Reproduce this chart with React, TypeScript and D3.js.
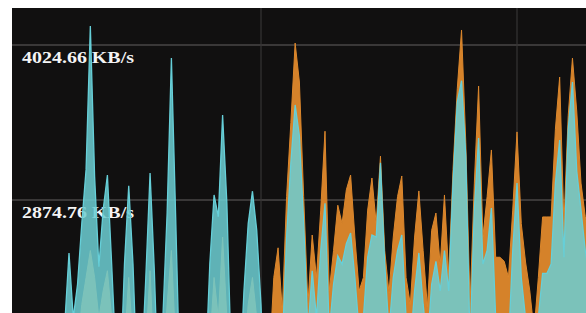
import { useEffect, useRef } from "react";
import { select, scaleLinear, scaleTime, area, curveLinear, timeMinute } from "d3";

// one sample per second, starting 59s before the first minute gridline
const startTime = new Date(2020, 0, 1, 12, 0, 1);

// sent (teal) KB/s
const sent = [
  1200, 1100, 1300, 1000, 1200, 1400, 1100, 1300, 1200, 1000,
  1300, 1500, 1400, 1950, 2482, 2000, 2250, 2700, 3100, 4165,
  3050, 2380, 2800, 3060, 2400, 1700, 1500, 2400, 2980, 2400,
  1500, 1600, 2300, 3075, 2350, 1400, 2000, 2780, 3928, 2750,
  1500, 1300, 1200, 1400, 1300, 1100, 1600, 2400, 2912, 2750,
  3505, 2850, 1700, 1300, 1500, 2200, 2700, 2940, 2650, 2100,
  1200, 1400, 1800, 2000, 1800, 2600, 3150, 3580, 3350, 2700,
  1900, 2350, 2000, 2500, 2850, 1900, 2250, 2460, 2400, 2550,
  2630, 2300, 1900, 2000, 2450, 2615, 2600, 3150, 2400, 1900,
  2300, 2500, 2615, 2000, 1800, 2200, 2482, 2100, 1800, 2250,
  2420, 2200, 2500, 2200, 3000, 3600, 3760, 3200, 1800, 2800,
  3335, 2400, 2500, 2815, 2000, 1950, 1900, 1800, 2500, 3000,
  2300, 2000, 1800, 1700, 2000, 2330, 2330, 2400, 3000, 3320,
  2450, 3400, 3750, 3090, 2800, 2500, 2300,
];

// received (orange) KB/s
const received = [
  900, 800, 1000, 800, 900, 1000, 900, 1000, 900, 800,
  1000, 1100, 1100, 1500, 1900, 1600, 1800, 2100, 2300, 2500,
  2300, 2000, 2200, 2350, 2000, 1400, 1200, 1800, 2300, 1800,
  1200, 1300, 1800, 2350, 1600, 1100, 1600, 2100, 2500, 1800,
  1200, 1000, 1000, 1100, 1000, 900, 1300, 1800, 2300, 2000,
  2600, 2000, 1400, 1000, 1200, 1700, 2100, 2300, 2000, 1500,
  1100, 1700, 2300, 2520, 2050, 2900, 3450, 4039, 3750, 2900,
  2100, 2615, 2300, 2800, 3385, 2200, 2500, 2836, 2700, 2950,
  3060, 2600, 2200, 2300, 2800, 3038, 2700, 3200, 2500, 2185,
  2600, 2900, 3053, 2300, 2100, 2600, 2942, 2500, 2080, 2650,
  2778, 2390, 2912, 2318, 3100, 3700, 4136, 3300, 2100, 3000,
  3720, 2600, 2900, 3246, 2450, 2450, 2420, 2300, 2800, 3380,
  2700, 2415, 2200, 1900, 2300, 2749, 2749, 2749, 3400, 3787,
  2700, 3500, 3928, 3535, 3000, 2750, 2600,
];

const yTicks = [574.95, 1724.86, 2874.76, 4024.66];

const W = 586;
const H = 313;
const plot = { left: 12, top: 8, right: 586, bottom: 313 };

export default function App() {
  const ref = useRef<SVGSVGElement>(null);

  useEffect(() => {
    const svg = select(ref.current);
    svg.selectAll("*").remove();

    const times = sent.map((_, i) => new Date(startTime.getTime() + i * 1000));

    const x = scaleTime()
      .domain([new Date(2020, 0, 1, 12, 0, 0), new Date(2020, 0, 1, 12, 2, 17)])
      .range([5, 5 + (137 * 256) / 60]);

    const y = scaleLinear().domain([0, 4024.66]).range([587.5, 45]);

    // only the ticks that fall inside the visible plot
    const shownTicks = yTicks.filter((d) => y(d) > plot.top && y(d) < plot.bottom - 30);

    svg
      .append("defs")
      .append("clipPath")
      .attr("id", "plotclip")
      .append("rect")
      .attr("x", plot.left)
      .attr("y", plot.top)
      .attr("width", plot.right - plot.left)
      .attr("height", plot.bottom - plot.top);

    svg
      .append("rect")
      .attr("x", plot.left)
      .attr("y", plot.top)
      .attr("width", plot.right - plot.left)
      .attr("height", plot.bottom - plot.top)
      .attr("fill", "#111010");

    const g = svg.append("g").attr("clip-path", "url(#plotclip)");

    g.selectAll("line.hgrid")
      .data(shownTicks)
      .enter()
      .append("line")
      .attr("class", "hgrid")
      .attr("x1", plot.left)
      .attr("x2", plot.right)
      .attr("y1", (d) => y(d))
      .attr("y2", (d) => y(d))
      .attr("stroke", "#3a3838")
      .attr("stroke-width", 2);

    g.selectAll("line.vgrid")
      .data(x.ticks(timeMinute.every(1)!))
      .enter()
      .append("line")
      .attr("class", "vgrid")
      .attr("x1", (d) => x(d))
      .attr("x2", (d) => x(d))
      .attr("y1", plot.top)
      .attr("y2", plot.bottom)
      .attr("stroke", "#363434")
      .attr("stroke-width", 1.2);

    g.selectAll("text.ylabel")
      .data(shownTicks)
      .enter()
      .append("text")
      .attr("class", "ylabel")
      .attr("x", plot.left + 10)
      .attr("y", (d) => y(d) + 18)
      .attr("fill", "#f4f4f4")
      .attr("font-family", "'Liberation Serif', 'Times New Roman', serif")
      .attr("font-size", 17)
      .attr("font-weight", "bold")
      .attr("textLength", 112)
      .attr("lengthAdjust", "spacingAndGlyphs")
      .text((d) => `${d.toFixed(2)} KB/s`);

    const makeArea = (vals: number[]) =>
      area<number>()
        .x((_, i) => x(times[i]))
        .y0(y(0))
        .y1((d) => y(d))
        .curve(curveLinear)(vals);

    g.append("path")
      .attr("d", makeArea(received))
      .attr("fill", "#d5822a")
      .attr("stroke", "#dc872c")
      .attr("stroke-width", 1);

    g.append("path")
      .attr("d", makeArea(sent))
      .attr("fill", "#6ccdd2")
      .attr("fill-opacity", 0.86)
      .attr("stroke", "#66cfd8")
      .attr("stroke-width", 1.3);
  }, []);

  return (
    <svg
      ref={ref}
      width={W}
      height={H}
      style={{ position: "absolute", left: 0, top: 0, display: "block" }}
    />
  );
}
